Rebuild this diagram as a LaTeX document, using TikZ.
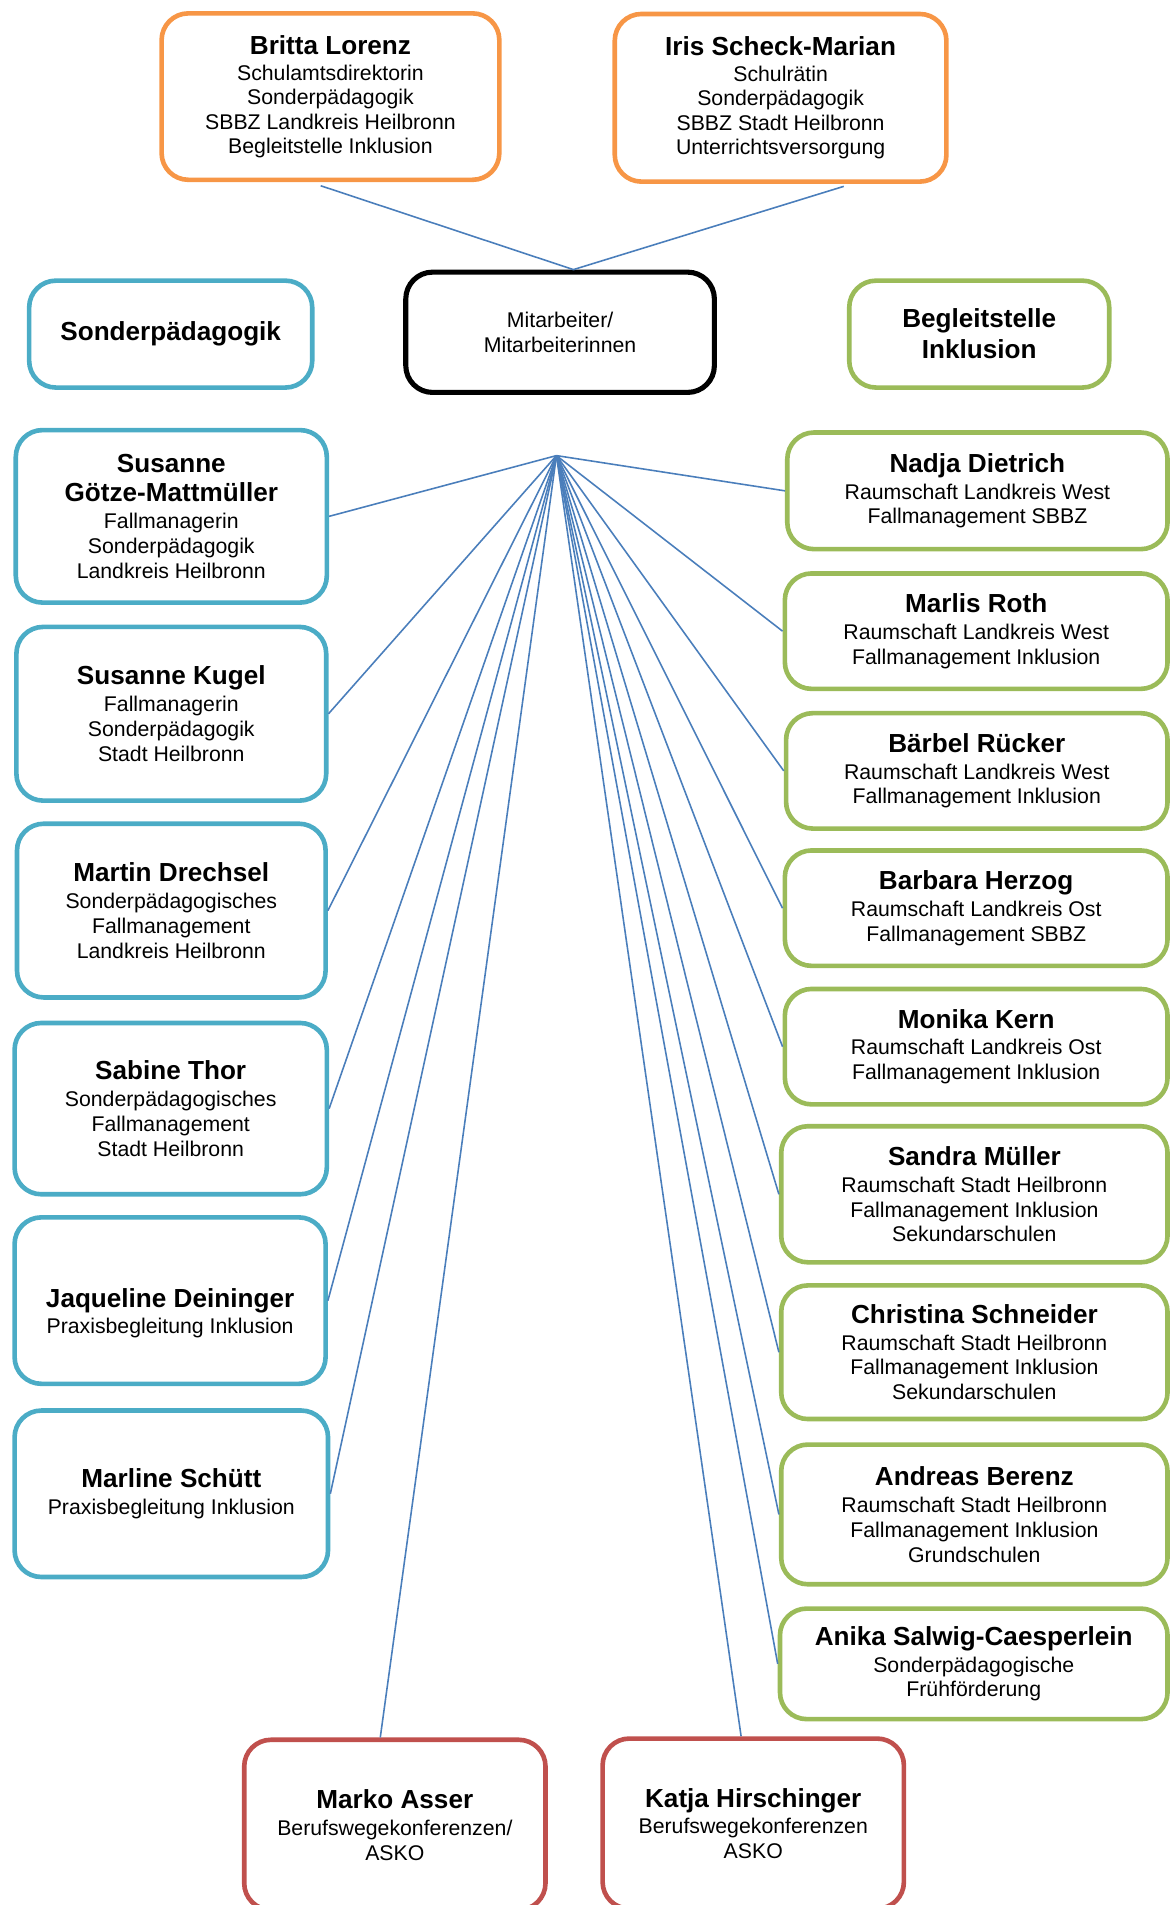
\documentclass[tikz,border=0pt]{standalone}
\usepackage{fontspec}
\setmainfont{Liberation Sans}
\usetikzlibrary{calc}
\definecolor{corange}{HTML}{F79646}
\definecolor{cblue}{HTML}{4BACC6}
\definecolor{cgreen}{HTML}{9BBB59}
\definecolor{cred}{HTML}{C0504D}
\definecolor{cline}{HTML}{4A7EBB}
\newcommand{\nm}[1]{{\fontsize{21.5}{24}\selectfont\bfseries #1}}
\tikzset{
  box/.style={draw, line width=3.8pt, rounded corners=22pt, fill=white, align=center,
    font=\fontsize{17.5}{20.5}\selectfont, inner sep=0pt},
  obox/.style={box, draw=corange},
  bbox/.style={box, draw=cblue},
  gbox/.style={box, draw=cgreen},
  rbox/.style={box, draw=cred},
  kbox/.style={box, draw=black, line width=4.2pt},
  conn/.style={draw=cline, line width=1.3pt},
  txt/.style={align=center, font=\fontsize{17.5}{20.5}\selectfont, inner sep=0pt},
}
\begin{document}
\begin{tikzpicture}[x=1pt,y=-1pt]
\useasboundingbox (0,0) rectangle (966,1568);
% top
\node[obox, minimum width=278, minimum height=137] (britta) at (272,79.5)
  {\nm{Britta Lorenz}\\[1pt]Schulamtsdirektorin\\[-0.5pt]Sonderpädagogik\\[-0.5pt]SBBZ Landkreis Heilbronn\\[-0.5pt]Begleitstelle Inklusion};
\node[obox, minimum width=273, minimum height=138] (iris) at (642.5,80.5)
  {\nm{Iris Scheck-Marian}\\[1pt]Schulrätin\\[-0.5pt]Sonderpädagogik\\[-0.5pt]SBBZ Stadt Heilbronn\\[-0.5pt]Unterrichtsversorgung};
\node[bbox, minimum width=233, minimum height=88] (sonder) at (140.5,275) {\nm{Sonderpädagogik}};
\node[kbox, minimum width=254, minimum height=99] (mit) at (461,273.5) {Mitarbeiter/\\Mitarbeiterinnen};
\node[gbox, minimum width=214, minimum height=88] (begl) at (806,275) {\nm{Begleitstelle}\\[5pt]\nm{Inklusion}};
% left column
\node[bbox, minimum width=256, minimum height=142] (goetze) at (141,425)
  {\nm{Susanne}\\[3.5pt]\nm{Götze-Mattmüller}\\[2pt]Fallmanagerin\\Sonderpädagogik\\Landkreis Heilbronn};
\node[bbox, minimum width=255, minimum height=143] (kugel) at (141,587.5)
  {\nm{Susanne Kugel}\\[1.5pt]Fallmanagerin\\Sonderpädagogik\\Stadt Heilbronn};
\node[bbox, minimum width=254, minimum height=143] (drechsel) at (141,749.5)
  {\nm{Martin Drechsel}\\[1.5pt]Sonderpädagogisches\\Fallmanagement\\Landkreis Heilbronn};
\node[bbox, minimum width=257, minimum height=141] (thor) at (140.5,912.5)
  {\nm{Sabine Thor}\\[1.5pt]Sonderpädagogisches\\Fallmanagement\\Stadt Heilbronn};
\node[bbox, minimum width=256, minimum height=137] (deininger) at (140,1070.5) {};
\node[txt] (deiningertext) at (140,1081)
  {\nm{Jaqueline Deininger}\\[1.5pt]Praxisbegleitung Inklusion};
\node[bbox, minimum width=258, minimum height=137] (schuett) at (141,1229.5)
  {\nm{Marline Schütt}\\[1.5pt]Praxisbegleitung Inklusion};
% right column
\node[gbox, minimum width=313, minimum height=96] (nadja) at (804.5,404)
  {\nm{Nadja Dietrich}\\[1.5pt]Raumschaft Landkreis West\\Fallmanagement SBBZ};
\node[gbox, minimum width=315, minimum height=95] (roth) at (803.5,519.5)
  {\nm{Marlis Roth}\\[1.5pt]Raumschaft Landkreis West\\Fallmanagement Inklusion};
\node[gbox, minimum width=314, minimum height=95] (ruecker) at (804,634.5)
  {\nm{Bärbel Rücker}\\[1.5pt]Raumschaft Landkreis West\\Fallmanagement Inklusion};
\node[gbox, minimum width=315, minimum height=95] (herzog) at (803.5,747.5)
  {\nm{Barbara Herzog}\\[1.5pt]Raumschaft Landkreis Ost\\Fallmanagement SBBZ};
\node[gbox, minimum width=315, minimum height=95] (kern) at (803.5,861.5)
  {\nm{Monika Kern}\\[1.5pt]Raumschaft Landkreis Ost\\Fallmanagement Inklusion};
\node[gbox, minimum width=318, minimum height=112] (mueller) at (802,983)
  {\nm{Sandra Müller}\\[1.5pt]Raumschaft Stadt Heilbronn\\Fallmanagement Inklusion\\Sekundarschulen};
\node[gbox, minimum width=318, minimum height=110] (schneider) at (802,1113)
  {\nm{Christina Schneider}\\[1.5pt]Raumschaft Stadt Heilbronn\\Fallmanagement Inklusion\\Sekundarschulen};
\node[gbox, minimum width=318, minimum height=115] (berenz) at (802,1246.5)
  {\nm{Andreas Berenz}\\[1.5pt]Raumschaft Stadt Heilbronn\\Fallmanagement Inklusion\\Grundschulen};
\node[gbox, minimum width=319, minimum height=91] (anika) at (801.5,1369.5)
  {\nm{Anika Salwig-Caesperlein}\\[1.5pt]Sonderpädagogische\\Frühförderung};
% bottom
\node[rbox, minimum width=248, minimum height=140] (marko) at (325,1502)
  {\nm{Marko Asser}\\[1.5pt]Berufswegekonferenzen/\\ASKO};
\node[rbox, minimum width=248, minimum height=140] (katja) at (620,1501)
  {\nm{Katja Hirschinger}\\[1.5pt]Berufswegekonferenzen\\ASKO};
% connectors
\coordinate (hub) at (458,375);
\coordinate (mtop) at ($(mit.north)+(11,0)$);
\draw[conn] ($(britta.south)+(-8,3)$) -- (mtop) -- ($(iris.south)+(52,2)$);
\foreach \n in {goetze,kugel,drechsel,thor,deininger,schuett}
  \draw[conn] (hub) -- (\n.east);
\foreach \n in {nadja,roth,ruecker,herzog,kern,mueller,schneider,berenz,anika}
  \draw[conn] (hub) -- (\n.west);
\draw[conn] (hub) -- ($(marko.north)+(-12,0)$);
\draw[conn] (hub) -- ($(katja.north)+(-10,0)$);
\end{tikzpicture}
\end{document}
